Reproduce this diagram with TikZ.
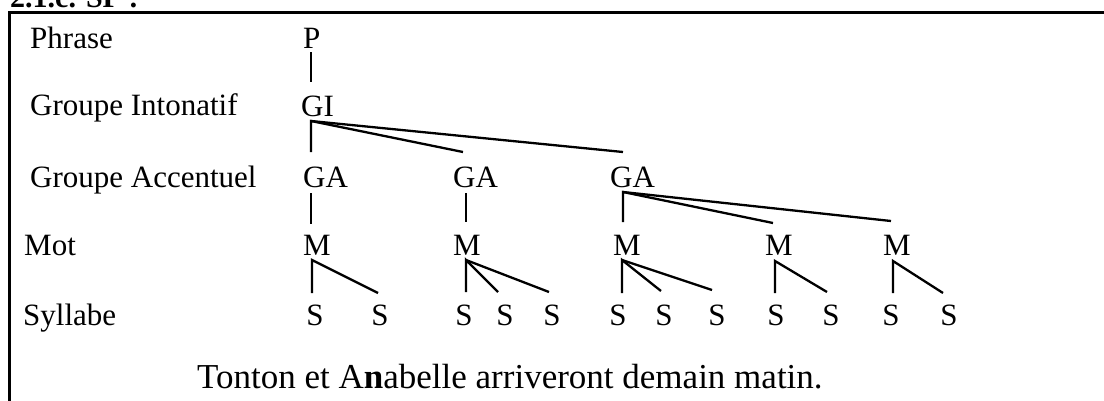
\documentclass[tikz,border=0pt]{standalone}
\usepackage{fontspec}
\setmainfont{Liberation Serif}
\begin{document}
\begin{tikzpicture}[x=1pt,y=1pt,
  lbl/.style={anchor=base west,inner sep=0pt,font=\fontsize{31}{36}\selectfont},
  tn/.style={anchor=base west,inner sep=0pt,font=\fontsize{31}{36}\selectfont},
  sn/.style={anchor=base,inner sep=0pt,font=\fontsize{31}{36}\selectfont},
  edge/.style={line width=2.3pt},
  frame/.style={line width=3pt}]
\useasboundingbox (0,0) rectangle (1104,-400);
\clip (0,0) rectangle (1104,-400);
% heading (clipped at top)
\node[anchor=base west,inner sep=0pt,font=\fontsize{30}{36}\selectfont\bfseries] (head) at (10,-7) {2.1.c. SP :};
% frame
\coordinate (fr-a) at (9.5,-420);
\coordinate (fr-b) at (9.5,-12);
\coordinate (fr-c) at (1120,-12);
\draw[frame] (fr-a) -- (fr-b) -- (fr-c);
% level labels
\node[lbl] (l1) at (30,-48) {Phrase};
\node[lbl] (l2) at (30,-115) {Groupe Intonatif};
\node[lbl] (l3) at (30,-187) {Groupe Accentuel};
\node[lbl] (l4) at (24,-255) {Mot};
\node[lbl] (l5) at (23,-325) {Syllabe};
% tree nodes
\node[tn] (P) at (303,-48) {P};
\node[tn] (GI) at (301,-116) {GI};
\node[tn] (GA1) at (303,-187) {GA};
\node[tn] (GA2) at (453,-187) {GA};
\node[tn] (GA3) at (610,-187) {GA};
\node[tn] (M1) at (303,-255) {M};
\node[tn] (M2) at (453,-255) {M};
\node[tn] (M3) at (613,-255) {M};
\node[tn] (M4) at (765,-255) {M};
\node[tn] (M5) at (883,-255) {M};
\foreach \i/\x in {1/315,2/380,3/464,4/505,5/552,6/618,7/664,8/717,9/776,10/831,11/891,12/949}
  \node[sn] (S\i) at (\x,-325) {S};
% connector end points
\coordinate (P-b) at (311,-52);
\coordinate (GI-t) at (311,-82);
\coordinate (GI-b) at (311,-121);
\coordinate (GA1-t) at (311,-152);
\coordinate (GA2-t) at (463,-152);
\coordinate (GA3-t) at (623,-152);
\coordinate (GA1-b) at (311,-193);
\coordinate (GA2-b) at (466,-193);
\coordinate (GA3-b) at (623,-192);
\coordinate (M1-t) at (311,-224);
\coordinate (M2-t) at (466,-222);
\coordinate (M3-t) at (623,-222);
\coordinate (M4-t) at (773,-223);
\coordinate (M5-t) at (891,-221);
\coordinate (M1-b) at (312,-260);
\coordinate (M2-b) at (466,-260);
\coordinate (M3-b) at (622,-260);
\coordinate (M4-b) at (775,-261);
\coordinate (M5-b) at (893,-261);
\coordinate (S1-t) at (312,-293);
\coordinate (S2-t) at (378,-293);
\coordinate (S3-t) at (466,-292);
\coordinate (S4-t) at (498,-292);
\coordinate (S5-t) at (549,-292);
\coordinate (S6-t) at (622,-293);
\coordinate (S7-t) at (661,-291);
\coordinate (S8-t) at (712,-290);
\coordinate (S9-t) at (775,-293);
\coordinate (S10-t) at (827,-292);
\coordinate (S11-t) at (893,-293);
\coordinate (S12-t) at (943,-293);
% connectors
\draw[edge] (P-b) -- (GI-t);
\draw[edge] (GA1-t) -- (GI-b) -- (GA2-t);
\draw[edge] (GI-b) -- (GA3-t);
\draw[edge] (GA1-b) -- (M1-t);
\draw[edge] (GA2-b) -- (M2-t);
\draw[edge] (M3-t) -- (GA3-b) -- (M4-t);
\draw[edge] (GA3-b) -- (M5-t);
\draw[edge] (S1-t) -- (M1-b) -- (S2-t);
\draw[edge] (S3-t) -- (M2-b) -- (S4-t);
\draw[edge] (M2-b) -- (S5-t);
\draw[edge] (S6-t) -- (M3-b) -- (S7-t);
\draw[edge] (M3-b) -- (S8-t);
\draw[edge] (S9-t) -- (M4-b) -- (S10-t);
\draw[edge] (S11-t) -- (M5-b) -- (S12-t);
% sentence
\node[anchor=base west,inner sep=0pt,font=\fontsize{35}{40}\selectfont] (sent) at (197,-388) {Tonton et A\textbf{n}abelle arriveront demain matin.};
\end{tikzpicture}
\end{document}
